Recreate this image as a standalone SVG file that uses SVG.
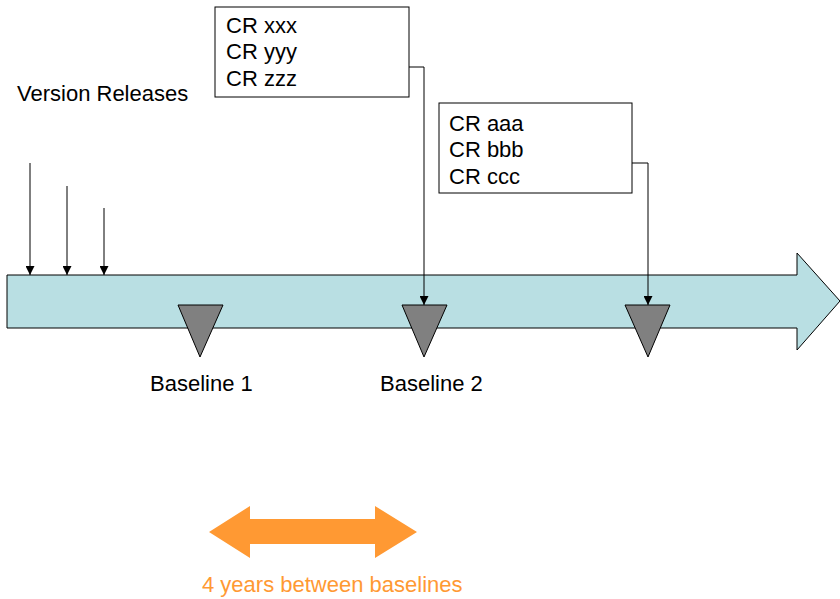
<svg xmlns="http://www.w3.org/2000/svg" width="840" height="599" viewBox="0 0 840 599">
<style>
text{font-family:"Liberation Sans",Arial,sans-serif;font-size:22px;fill:#000}
.box{fill:#fff;stroke:#000;stroke-width:1}
.tri{fill:#808080;stroke:#000;stroke-width:1}
.con{fill:none;stroke:#000;stroke-width:1;marker-end:url(#ah)}
.orange{fill:#FF9933}
</style>
<defs>
<marker id="ah" viewBox="0 0 10 10" refX="10" refY="5" markerWidth="9" markerHeight="9" markerUnits="userSpaceOnUse" orient="auto">
<path d="M0,0 L10,5 L0,10 z" fill="#000"/>
</marker>
</defs>
<rect width="840" height="599" fill="#fff"/>
<g id="timeline">
<path d="M7,275 L797,275 L797,253 L840,301 L797,350 L797,328 L7,328 Z" fill="#B9DFE3" stroke="#000" stroke-width="1"/>
</g>
<g id="label-version"><text x="17" y="101">Version Releases</text></g>
<g id="box1">
<rect class="box" x="215" y="7" width="194" height="90"/>
<text x="226" y="33">CR xxx</text>
<text x="226" y="59">CR yyy</text>
<text x="226" y="86">CR zzz</text>
</g>
<g id="box2">
<rect class="box" x="439" y="103" width="193" height="90"/>
<text x="449" y="131">CR aaa</text>
<text x="449" y="157">CR bbb</text>
<text x="449" y="184">CR ccc</text>
</g>
<g id="baseline1">
<path class="tri" d="M178,305 L223,305 L200,357 Z"/>
<text x="150" y="391">Baseline 1</text>
</g>
<g id="baseline2">
<path class="tri" d="M402,305 L447,305 L424,357 Z"/>
<text x="380" y="391">Baseline 2</text>
</g>
<g id="baseline3">
<path class="tri" d="M625,305 L670,305 L648,357 Z"/>
</g>
<g id="connectors">
<path class="con" d="M30,163 L30,275"/>
<path class="con" d="M67,186 L67,275"/>
<path class="con" d="M104,208 L104,275"/>
<path class="con" d="M409,67 L424,67 L424,305"/>
<path class="con" d="M632,163 L648,163 L648,305"/>
</g>
<g id="span">
<path class="orange" d="M209,532 L250,506 L250,519 L375,519 L375,506 L417,532 L375,558 L375,544 L250,544 L250,558 Z"/>
<text x="202" y="592" style="fill:#FF9933">4 years between baselines</text>
</g>
</svg>
